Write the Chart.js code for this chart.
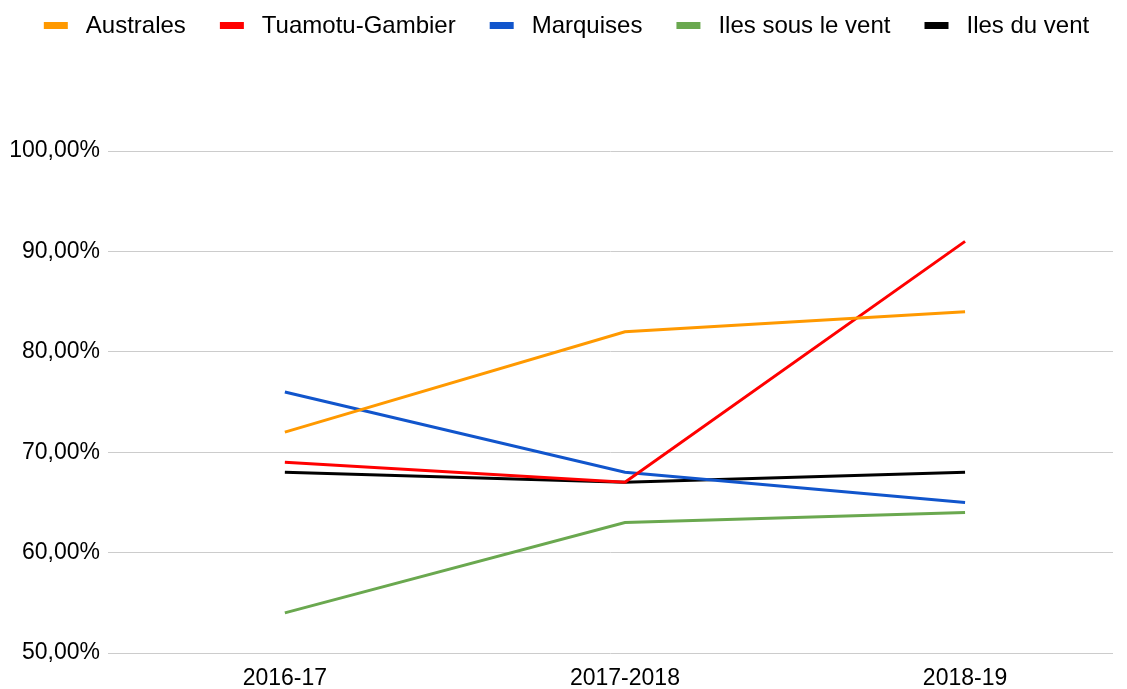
<!DOCTYPE html>
<html>
<head>
<meta charset="utf-8">
<script src="https://cdn.jsdelivr.net/npm/chart.js@4/dist/chart.umd.min.js"></script>
<style>
html,body{margin:0;padding:0;background:#fff;}
#wrap{width:1127px;height:689px;}
</style>
</head>
<body>
<div id="wrap"><canvas id="c" width="1127" height="689"></canvas></div>
<script>
const categories = ["2016-17", "2017-2018", "2018-19"];
const seriesNames = ["Australes", "Tuamotu-Gambier", "Marquises", "Iles sous le vent", "Iles du vent"];
const australes = [72, 82, 84];
const tuamotuGambier = [69, 67, 91];
const marquises = [76, 68, 65];
const ilesSousLeVent = [54, 63, 64];
const ilesDuVent = [68, 67, 68];
const yTicks = [50, 60, 70, 80, 90, 100];
const colors = ["#ff9900", "#ff0000", "#1155cc", "#6aa84f", "#000000"];

const seriesValues = [australes, tuamotuGambier, marquises, ilesSousLeVent, ilesDuVent];

function legendSwatch(color){
  const cv = document.createElement('canvas');
  cv.width = 50; cv.height = 8;
  const g = cv.getContext('2d');
  g.fillStyle = color;
  g.fillRect(20, 0, 24, 7);
  return cv;
}
const swatches = colors.map(legendSwatch);

const datasets = seriesNames.map((name, i) => ({
  label: name,
  data: seriesValues[i].map((v, j) => ({x: j, y: v})),
  borderColor: colors[i],
  backgroundColor: colors[i],
  borderWidth: 3,
  pointRadius: 0,
  tension: 0,
  fill: false
}));

const legendHeightPlugin = {
  id: 'legendHeight',
  beforeInit(chart){
    const orig = chart.legend.fit;
    chart.legend.fit = function(){
      orig.call(this);
      this.height = 151;
    };
  }
};

const FONT = '"Liberation Sans", Arial, sans-serif';

new Chart(document.getElementById('c'), {
  type: 'line',
  data: { datasets },
  plugins: [legendHeightPlugin],
  options: {
    responsive: false,
    animation: false,
    layout: { padding: { left: 0, right: 14, top: 0, bottom: 0 } },
    plugins: {
      legend: {
        position: 'top',
        align: 'center',
        labels: {
          usePointStyle: true,
          pointStyleWidth: 50,
          boxHeight: 8,
          padding: 14,
          color: '#000',
          font: { family: FONT, size: 24 },
          generateLabels(chart){
            const items = Chart.defaults.plugins.legend.labels.generateLabels(chart);
            items.forEach((it, i) => { it.pointStyle = swatches[i]; it.lineWidth = 0; });
            return items;
          }
        }
      },
      tooltip: { enabled: false }
    },
    scales: {
      x: {
        type: 'linear',
        min: -0.52,
        max: 2.435,
        afterBuildTicks(axis){ axis.ticks = categories.map((c, i) => ({value: i})); },
        afterFit(axis){ axis.height = 36; },
        grid: { display: false, drawTicks: false },
        border: { display: false },
        ticks: {
          padding: 12,
          color: '#000',
          maxRotation: 0,
          autoSkip: false,
          font: { family: FONT, size: 23 },
          callback(v){ return categories[v]; }
        }
      },
      y: {
        min: 50,
        max: 100,
        afterBuildTicks(axis){ axis.ticks = yTicks.map(v => ({value: v})); },
        afterFit(axis){ axis.width = 108; },
        grid: { color: '#cccccc', lineWidth: 1, drawTicks: false },
        border: { display: false },
        ticks: {
          padding: 8,
          color: '#000',
          font: { family: FONT, size: 23 },
          callback(v){ return v.toFixed(2).replace('.', ',') + '%'; }
        }
      }
    }
  }
});
</script>
</body>
</html>
